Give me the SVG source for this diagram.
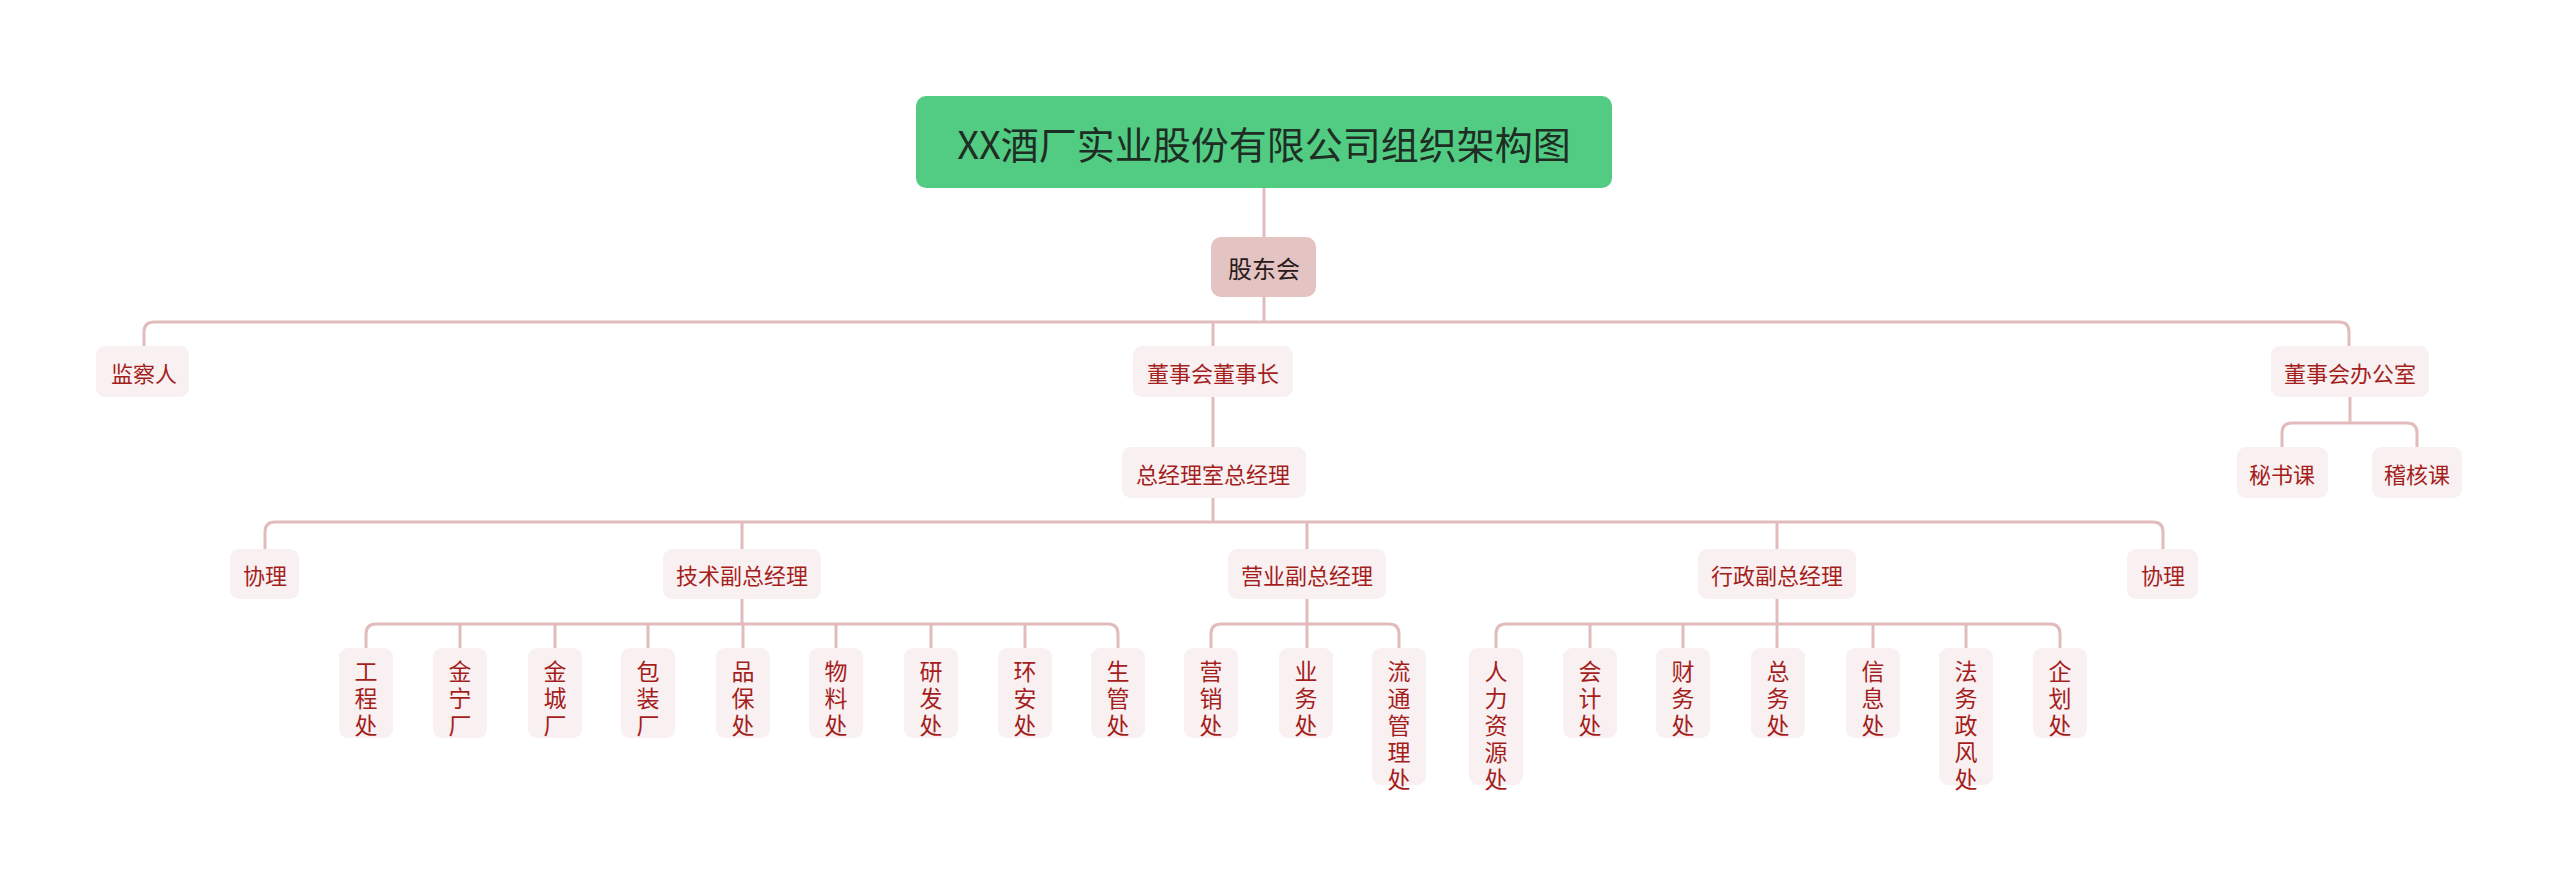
<svg xmlns="http://www.w3.org/2000/svg" width="2560" height="881" viewBox="0 0 2560 881">
<style>
.c{fill:none;stroke:#e2bcbc;stroke-width:3}
.n{fill:#f9f1f1}
.t{font-family:"Noto Sans CJK SC","Liberation Sans",sans-serif;font-size:22px;fill:#a51e1e;text-anchor:middle;dominant-baseline:central}
.v{font-family:"Noto Sans CJK SC","Liberation Sans",sans-serif;font-size:23px;fill:#a51e1e;text-anchor:middle;dominant-baseline:central}
</style>
<rect width="2560" height="881" fill="#fff"/>
<g id="connectors">
<path class="c" d="M1264,188 V237"/>
<path class="c" d="M1264,297 V322"/>
<path class="c" d="M144,346 V332 Q144,322 154,322 H2339 Q2349,322 2349,332 V346"/>
<path class="c" d="M1213,322 V346"/>
<path class="c" d="M1213,397 V447"/>
<path class="c" d="M1213,498 V522"/>
<path class="c" d="M265,549 V532 Q265,522 275,522 H2153 Q2163,522 2163,532 V549"/>
<path class="c" d="M742,522 V549 M1307,522 V549 M1777,522 V549"/>
<path class="c" d="M2350,397 V423"/>
<path class="c" d="M2282,447 V433 Q2282,423 2292,423 H2407 Q2417,423 2417,433 V447"/>
<path class="c" d="M742,599 V624"/>
<path class="c" d="M366,648 V634 Q366,624 376,624 H1108 Q1118,624 1118,634 V648"/>
<path class="c" d="M460,624 V648 M555,624 V648 M648,624 V648 M743,624 V648 M836,624 V648 M931,624 V648 M1025,624 V648"/>
<path class="c" d="M1307,599 V648"/>
<path class="c" d="M1211,648 V634 Q1211,624 1221,624 H1389 Q1399,624 1399,634 V648"/>
<path class="c" d="M1777,599 V648"/>
<path class="c" d="M1496,648 V634 Q1496,624 1506,624 H2050 Q2060,624 2060,634 V648"/>
<path class="c" d="M1590,624 V648 M1683,624 V648 M1873,624 V648 M1966,624 V648"/>
</g>
<g id="root"><rect x="916" y="96" width="696" height="92" rx="10" fill="#52cc82"/><text x="1264" y="142" font-family="Noto Sans CJK SC,Liberation Sans,sans-serif" font-size="38" fill="#1e2e24" text-anchor="middle" dominant-baseline="central">XX酒厂实业股份有限公司组织架构图</text></g>
<g id="gdh"><rect x="1211" y="237" width="105" height="60" rx="10" fill="#e4c3c3"/><text x="1264" y="267" font-family="Noto Sans CJK SC,Liberation Sans,sans-serif" font-size="24" fill="#2a1a1a" text-anchor="middle" dominant-baseline="central">股东会</text></g>
<g id="jcr"><rect class="n" x="96" y="346" width="93" height="51" rx="9"/><text class="t" x="144" y="372">监察人</text></g>
<g id="dsz"><rect class="n" x="1133" y="346" width="160" height="51" rx="9"/><text class="t" x="1213" y="372">董事会董事长</text></g>
<g id="dsb"><rect class="n" x="2271" y="346" width="158" height="51" rx="9"/><text class="t" x="2350" y="372">董事会办公室</text></g>
<g id="zjl"><rect class="n" x="1122" y="447" width="184" height="51" rx="9"/><text class="t" x="1213" y="473">总经理室总经理</text></g>
<g id="msk"><rect class="n" x="2237" y="447" width="91" height="51" rx="9"/><text class="t" x="2282" y="473">秘书课</text></g>
<g id="jhk"><rect class="n" x="2372" y="447" width="90" height="51" rx="9"/><text class="t" x="2417" y="473">稽核课</text></g>
<g id="xl1"><rect class="n" x="230" y="549" width="69" height="50" rx="9"/><text class="t" x="265" y="574">协理</text></g>
<g id="js"><rect class="n" x="663" y="549" width="158" height="50" rx="9"/><text class="t" x="742" y="574">技术副总经理</text></g>
<g id="yy"><rect class="n" x="1228" y="549" width="158" height="50" rx="9"/><text class="t" x="1307" y="574">营业副总经理</text></g>
<g id="xz"><rect class="n" x="1698" y="549" width="158" height="50" rx="9"/><text class="t" x="1777" y="574">行政副总经理</text></g>
<g id="xl2"><rect class="n" x="2127" y="549" width="71" height="50" rx="9"/><text class="t" x="2163" y="574">协理</text></g>
<g id="l1"><rect class="n" x="339" y="648" width="54" height="90" rx="9"/><text class="v"><tspan x="366" y="670">工</tspan><tspan x="366" y="697">程</tspan><tspan x="366" y="724">处</tspan></text></g>
<g id="l2"><rect class="n" x="433" y="648" width="54" height="90" rx="9"/><text class="v"><tspan x="460" y="670">金</tspan><tspan x="460" y="697">宁</tspan><tspan x="460" y="724">厂</tspan></text></g>
<g id="l3"><rect class="n" x="528" y="648" width="54" height="90" rx="9"/><text class="v"><tspan x="555" y="670">金</tspan><tspan x="555" y="697">城</tspan><tspan x="555" y="724">厂</tspan></text></g>
<g id="l4"><rect class="n" x="621" y="648" width="54" height="90" rx="9"/><text class="v"><tspan x="648" y="670">包</tspan><tspan x="648" y="697">装</tspan><tspan x="648" y="724">厂</tspan></text></g>
<g id="l5"><rect class="n" x="716" y="648" width="54" height="90" rx="9"/><text class="v"><tspan x="743" y="670">品</tspan><tspan x="743" y="697">保</tspan><tspan x="743" y="724">处</tspan></text></g>
<g id="l6"><rect class="n" x="809" y="648" width="54" height="90" rx="9"/><text class="v"><tspan x="836" y="670">物</tspan><tspan x="836" y="697">料</tspan><tspan x="836" y="724">处</tspan></text></g>
<g id="l7"><rect class="n" x="904" y="648" width="54" height="90" rx="9"/><text class="v"><tspan x="931" y="670">研</tspan><tspan x="931" y="697">发</tspan><tspan x="931" y="724">处</tspan></text></g>
<g id="l8"><rect class="n" x="998" y="648" width="54" height="90" rx="9"/><text class="v"><tspan x="1025" y="670">环</tspan><tspan x="1025" y="697">安</tspan><tspan x="1025" y="724">处</tspan></text></g>
<g id="l9"><rect class="n" x="1091" y="648" width="54" height="90" rx="9"/><text class="v"><tspan x="1118" y="670">生</tspan><tspan x="1118" y="697">管</tspan><tspan x="1118" y="724">处</tspan></text></g>
<g id="y1"><rect class="n" x="1184" y="648" width="54" height="90" rx="9"/><text class="v"><tspan x="1211" y="670">营</tspan><tspan x="1211" y="697">销</tspan><tspan x="1211" y="724">处</tspan></text></g>
<g id="y2"><rect class="n" x="1279" y="648" width="54" height="90" rx="9"/><text class="v"><tspan x="1306" y="670">业</tspan><tspan x="1306" y="697">务</tspan><tspan x="1306" y="724">处</tspan></text></g>
<g id="y3"><rect class="n" x="1372" y="648" width="54" height="137" rx="9"/><text class="v"><tspan x="1399" y="670">流</tspan><tspan x="1399" y="697">通</tspan><tspan x="1399" y="724">管</tspan><tspan x="1399" y="751">理</tspan><tspan x="1399" y="778">处</tspan></text></g>
<g id="x1"><rect class="n" x="1469" y="648" width="54" height="137" rx="9"/><text class="v"><tspan x="1496" y="670">人</tspan><tspan x="1496" y="697">力</tspan><tspan x="1496" y="724">资</tspan><tspan x="1496" y="751">源</tspan><tspan x="1496" y="778">处</tspan></text></g>
<g id="x2"><rect class="n" x="1563" y="648" width="54" height="90" rx="9"/><text class="v"><tspan x="1590" y="670">会</tspan><tspan x="1590" y="697">计</tspan><tspan x="1590" y="724">处</tspan></text></g>
<g id="x3"><rect class="n" x="1656" y="648" width="54" height="90" rx="9"/><text class="v"><tspan x="1683" y="670">财</tspan><tspan x="1683" y="697">务</tspan><tspan x="1683" y="724">处</tspan></text></g>
<g id="x4"><rect class="n" x="1751" y="648" width="54" height="90" rx="9"/><text class="v"><tspan x="1778" y="670">总</tspan><tspan x="1778" y="697">务</tspan><tspan x="1778" y="724">处</tspan></text></g>
<g id="x5"><rect class="n" x="1846" y="648" width="54" height="90" rx="9"/><text class="v"><tspan x="1873" y="670">信</tspan><tspan x="1873" y="697">息</tspan><tspan x="1873" y="724">处</tspan></text></g>
<g id="x6"><rect class="n" x="1939" y="648" width="54" height="137" rx="9"/><text class="v"><tspan x="1966" y="670">法</tspan><tspan x="1966" y="697">务</tspan><tspan x="1966" y="724">政</tspan><tspan x="1966" y="751">风</tspan><tspan x="1966" y="778">处</tspan></text></g>
<g id="x7"><rect class="n" x="2033" y="648" width="54" height="90" rx="9"/><text class="v"><tspan x="2060" y="670">企</tspan><tspan x="2060" y="697">划</tspan><tspan x="2060" y="724">处</tspan></text></g>
</svg>
